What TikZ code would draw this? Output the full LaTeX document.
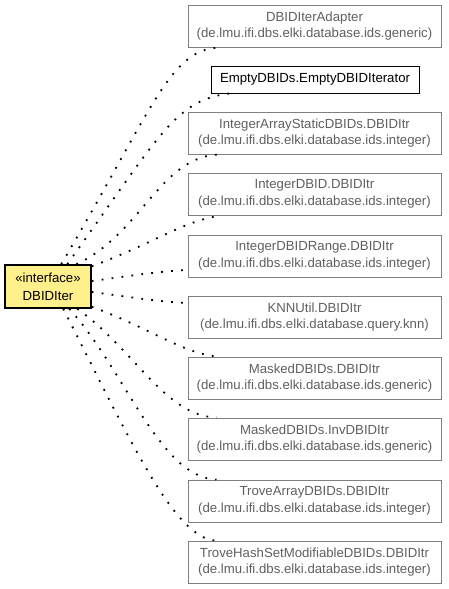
\documentclass[tikz,border=0pt]{standalone}
\usepackage{fontspec}
\setmainfont{Liberation Sans}
\definecolor{boxgray}{RGB}{128,128,128}
\definecolor{txtgray}{RGB}{95,95,95}
\definecolor{ifyellow}{RGB}{255,240,140}
\begin{document}
\begin{tikzpicture}[x=1pt,y=-1pt,
  cls/.style={draw=boxgray, line width=1pt, minimum width=253pt, minimum height=42pt, inner sep=0pt, align=center, text=txtgray, font=\fontsize{13.2}{16.5}\selectfont},
  clsb/.style={draw=black, line width=1pt, minimum width=208pt, minimum height=27pt, inner sep=0pt, font=\fontsize{13.2}{16.5}\selectfont},
  iface/.style={draw=black, line width=1.5pt, fill=ifyellow, minimum width=86pt, minimum height=43pt, inner sep=0pt, align=center, font=\fontsize{13.2}{18}\selectfont},
  dep/.style={line width=1.8pt, dash pattern=on 1.8pt off 8.2pt}
]
\useasboundingbox (0,0) rectangle (448,589);
\node[iface] (src) at (48,286.5) {«interface»\\DBIDIter};
\node[cls] (t1) at (314.5,26) {DBIDIterAdapter\\(de.lmu.ifi.dbs.elki.database.ids.generic)};
\node[clsb] (t2) at (315,79.5) {EmptyDBIDs.EmptyDBIDIterator};
\node[cls] (t3) at (314.5,133) {IntegerArrayStaticDBIDs.DBIDItr\\(de.lmu.ifi.dbs.elki.database.ids.integer)};
\node[cls] (t4) at (314.5,194) {IntegerDBID.DBIDItr\\(de.lmu.ifi.dbs.elki.database.ids.integer)};
\node[cls] (t5) at (314.5,256) {IntegerDBIDRange.DBIDItr\\(de.lmu.ifi.dbs.elki.database.ids.integer)};
\node[cls] (t6) at (314.5,317) {KNNUtil.DBIDItr\\(de.lmu.ifi.dbs.elki.database.query.knn)};
\node[cls] (t7) at (314.5,378) {MaskedDBIDs.DBIDItr\\(de.lmu.ifi.dbs.elki.database.ids.generic)};
\node[cls] (t8) at (314.5,439) {MaskedDBIDs.InvDBIDItr\\(de.lmu.ifi.dbs.elki.database.ids.generic)};
\node[cls] (t9) at (314.5,501) {TroveArrayDBIDs.DBIDItr\\(de.lmu.ifi.dbs.elki.database.ids.integer)};
\node[cls] (t10) at (314.5,562) {TroveHashSetModifiableDBIDs.DBIDItr\\(de.lmu.ifi.dbs.elki.database.ids.integer)};
\draw[dep] ([xshift=57pt]src.north west) .. controls (155,105) and (170,48) .. ([xshift=34pt]t1.south west);
\draw[dep] ([xshift=63pt]src.north west) .. controls (160,135) and (175,100) .. ([xshift=19pt]t2.south west);
\draw[dep] ([xshift=72pt]src.north west) .. controls (140,235) and (160,158) .. ([xshift=30pt]t3.south west);
\draw[dep] ([yshift=-2pt]src.north east) .. controls (150,245) and (185,220) .. ([xshift=34pt]t4.south west);
\draw[dep] ([yshift=5.5pt]src.east) .. controls (130,276) and (160,271) .. ([yshift=-14pt]t5.west);
\draw[dep] ([yshift=-5.5pt]src.east) .. controls (130,297) and (160,302) .. ([yshift=14pt]t6.west);
\draw[dep] ([yshift=2pt]src.south east) .. controls (150,328) and (185,355) .. ([xshift=32pt]t7.north west);
\draw[dep] ([xshift=73pt]src.south west) .. controls (135,350) and (165,416) .. ([xshift=29pt]t8.north west);
\draw[dep] ([xshift=65pt]src.south west) .. controls (125,370) and (160,478) .. ([xshift=29pt]t9.north west);
\draw[dep] ([xshift=59pt]src.south west) .. controls (130,440) and (175,540) .. ([xshift=29pt]t10.north west);
\end{tikzpicture}
\end{document}
